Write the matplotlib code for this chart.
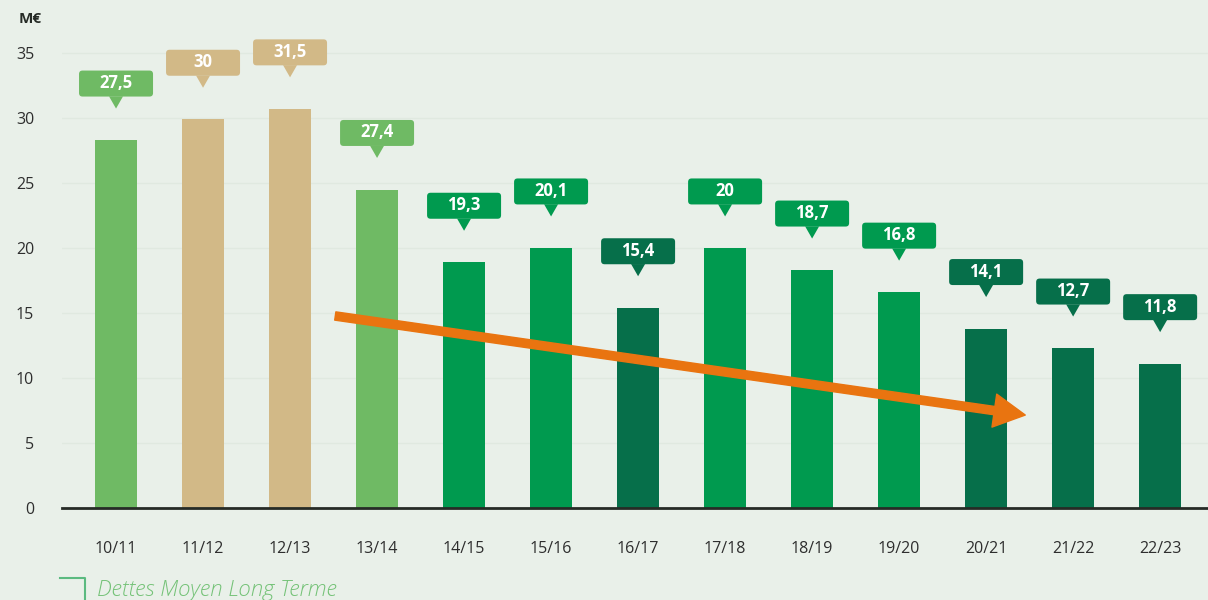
import numpy as np
import matplotlib
matplotlib.use("Agg")
import matplotlib.pyplot as plt
from matplotlib.patches import FancyBboxPatch, Polygon
from matplotlib.lines import Line2D
import matplotlib.transforms as mtransforms

plt.rcParams['font.family'] = ['Open Sans', 'DejaVu Sans']

# data
seasons = ['10/11', '11/12', '12/13', '13/14', '14/15', '15/16', '16/17',
           '17/18', '18/19', '19/20', '20/21', '21/22', '22/23']
bar_heights = [28.3, 29.9, 30.7, 24.5, 18.9, 20.0, 15.4, 20.0, 18.3, 16.6, 13.8, 12.3, 11.1]
labels = ['27,5', '30', '31,5', '27,4', '19,3', '20,1', '15,4', '20', '18,7',
          '16,8', '14,1', '12,7', '11,8']
groups = ['light', 'tan', 'tan', 'light', 'mid', 'mid', 'dark', 'mid', 'mid',
          'mid', 'dark', 'dark', 'dark']

colors = {'light': '#6FBA64', 'tan': '#D2B987', 'mid': '#009A4F', 'dark': '#066F4A'}
bg = '#E9F0E9'

fig = plt.figure(figsize=(12.08, 6.0), dpi=100, facecolor=bg)
ax = fig.add_axes([62 / 1208, 92 / 600, 1 - 62 / 1208, 494 / 600])
ax.set_facecolor(bg)

x = np.arange(len(seasons))
ax.bar(x, bar_heights, width=0.48, color=[colors[g] for g in groups], zorder=2)

ax.set_xlim(-0.621, 12.55)
ax.set_ylim(0, 38)
ax.set_yticks(range(0, 36, 5))
ax.set_xticks(x)
ax.set_xticklabels(seasons)
ax.tick_params(axis='both', length=0, labelsize=11.5, colors='#2E2E2E')
ax.tick_params(axis='y', pad=20)
ax.tick_params(axis='x', pad=24)
ax.grid(axis='y', color='#E0E9E0', linewidth=1, zorder=0)
for s in ['top', 'right', 'left']:
    ax.spines[s].set_visible(False)
ax.spines['bottom'].set_color('#262B26')
ax.spines['bottom'].set_linewidth(2)
ax.spines['bottom'].set_zorder(3)

# trend arrow
ax.annotate('', xy=(10.45, 7.15), xytext=(2.52, 14.77),
            arrowprops=dict(arrowstyle='simple,tail_width=0.4,head_width=1.6,head_length=1.5',
                            color='#E97410', mutation_scale=15, shrinkA=0, shrinkB=0),
            zorder=4)

# value callouts
offset = 4.35
for xi, h, lab, g in zip(x, bar_heights, labels, groups):
    tr = fig.dpi_scale_trans + mtransforms.ScaledTranslation(xi, h + offset, ax.transData)
    c = colors[g]
    box = FancyBboxPatch((-0.37, -0.13), 0.74, 0.26,
                         boxstyle='round,pad=0,rounding_size=0.035',
                         facecolor=c, edgecolor='none', transform=tr, zorder=5)
    ax.add_patch(box)
    tri = Polygon([(-0.07, -0.128), (0.07, -0.128), (0, -0.25)], closed=True,
                  facecolor=c, edgecolor='none', transform=tr, zorder=5)
    ax.add_patch(tri)
    ax.text(0, 0.005, lab, transform=tr, ha='center', va='center', color='white',
            fontsize=12, fontweight='bold', zorder=6)

fig.text(30 / 1208, 1 - 19 / 600, 'M€', ha='center', va='center', fontsize=11,
         fontweight='bold', color='#262B26')

# legend
fig.add_artist(Line2D([60 / 1208, 85 / 1208, 85 / 1208], [1 - 578 / 600, 1 - 578 / 600, 0],
                      color='#5BBA80', linewidth=1.5))
fig.text(97 / 1208, 1 - 590 / 600, 'Dettes Moyen Long Terme', ha='left', va='center',
         fontsize=16, style='italic', fontweight='light', color='#74C277')

fig.savefig('out.png', dpi=100, facecolor=bg)
